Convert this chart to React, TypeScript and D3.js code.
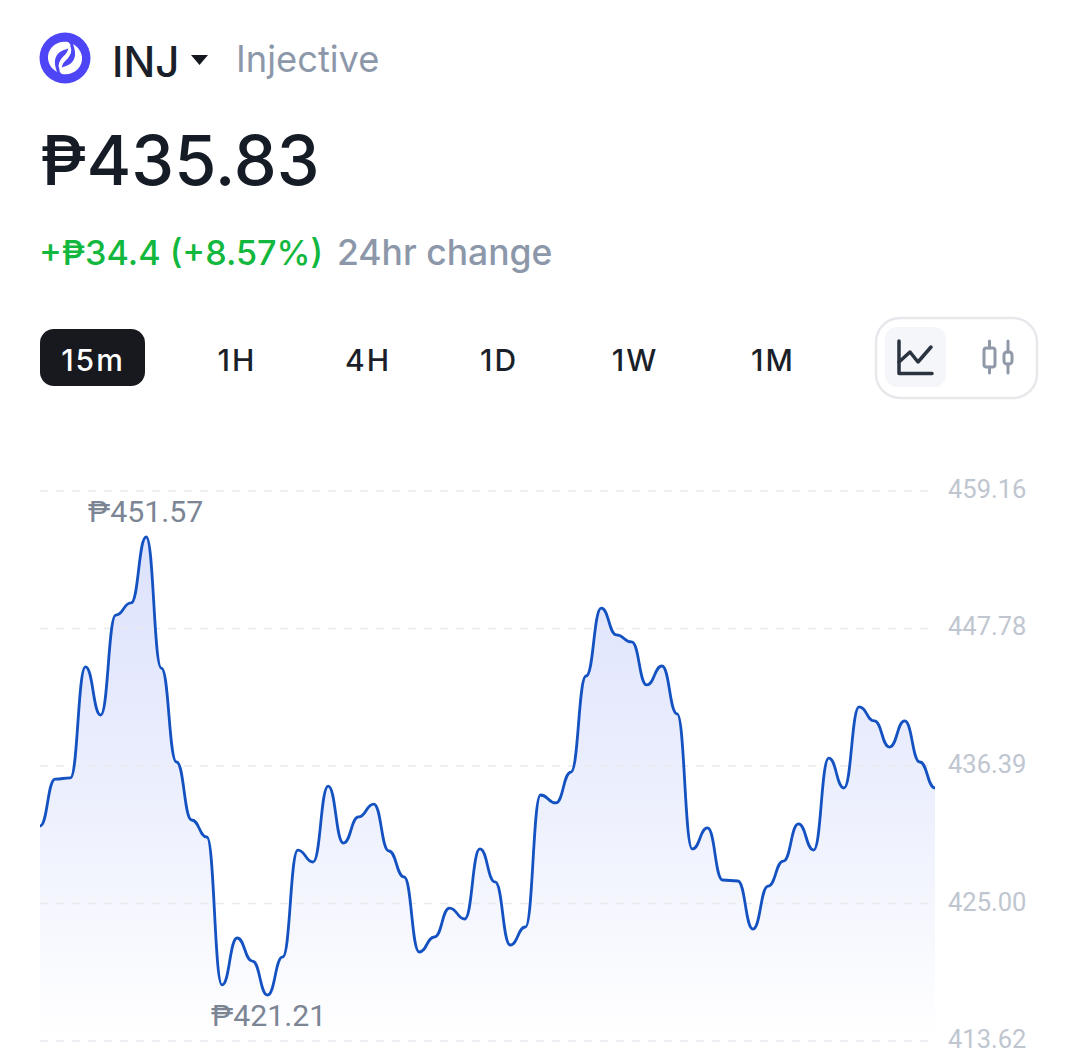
import React from "react";
import * as d3 from "d3";

const prices = [431.42,435.31,435.40,444.59,440.61,448.89,449.89,455.35,444.50,436.72,431.92,430.51,418.26,422.15,420.24,417.43,420.58,429.43,428.44,434.73,430.01,432.17,433.24,429.35,427.20,420.99,422.23,424.63,423.72,429.52,426.79,421.57,423.06,433.99,433.33,435.89,443.84,449.47,447.24,446.66,443.10,444.67,440.70,429.52,431.26,426.95,426.87,422.89,426.45,428.52,431.59,429.43,437.05,434.57,441.28,440.12,437.96,440.12,436.72,434.57];
const axisTicks = ["459.16","447.78","436.39","425.00","413.62"];
const intervals = ["15m","1H","4H","1D","1W","1M"];
const intervalCentres = [92,236,367,498,634,772];
const sans = "Inter, 'Noto Sans', sans-serif";
const axisFont = "Roboto, sans-serif";
const swirl = "M68 42 C56 40 47 49 48 59 C49 65 52 69 57 72 C55 66 54 61 56 57 C58 52 63 50 67 49 C72 47 71 44 68 42 Z M69 46 C71 51 66 54 62 58 C58 63 57 69 63 73 C60 67 63 63 67 59 C71 54 73 50 69 46 Z";

export default function App() {
  const x = d3.scaleLinear().domain([0, prices.length - 1]).range([40, 935]);
  const y = d3.scaleLinear().domain([413.62, 459.16]).range([1041, 491]);
  const line = d3.line<number>().x((_, i) => x(i)).y(d => y(d)).curve(d3.curveBumpX);
  const area = d3.area<number>().x((_, i) => x(i)).y0(1041).y1(d => y(d)).curve(d3.curveBumpX);
  return (
    <svg width={1078} height={1059} style={{ position: "absolute", left: 0, top: 0, display: "block", background: "#fff" }}>
      <defs>
        <linearGradient id="fill" x1="0" y1="537" x2="0" y2="1041" gradientUnits="userSpaceOnUse">
          <stop offset="0" stopColor="#dde2fd" />
          <stop offset="0.5" stopColor="#eceffd" />
          <stop offset="1" stopColor="#ffffff" />
        </linearGradient>
      </defs>
      <circle cx={65} cy={58} r={25.5} fill="#4d45f6" />
      <path d={swirl} fill="#fff" />
      <path d={swirl} fill="#fff" transform="rotate(180 65 58)" />
      <text x={112} y={77} fontFamily={sans} fontSize={42} fontWeight={500} fill="#1a1f29">INJ</text>
      <path d="M191 55 L208 55 L199.5 65 Z" fill="#15181e" />
      <text x={236} y={72} fontFamily={sans} fontSize={36.3} fill="#8c98aa">Injective</text>
      <text x={40} y={185} fontFamily={sans} fontSize={68.3} fontWeight={500} fill="#161c26">₱435.83</text>
      <text x={39} y={265} fontFamily={sans} fontSize={34.2} fontWeight={500} fill="#12b83d">+₱34.4 (+8.57%)</text>
      <text x={337} y={265} fontFamily={sans} fontSize={35.5} fontWeight={500} fill="#8c98aa">24hr change</text>

      <rect x={40} y={329} width={105} height={57} rx={14} fill="#17191e" />
      {intervals.map((t, i) => (
        <text key={t} x={intervalCentres[i] + 1} y={371} textAnchor="middle" fontFamily={sans} fontSize={30} fontWeight={500} letterSpacing={2} fill={i === 0 ? "#fff" : "#1a1f29"}>{t}</text>
      ))}

      <rect x={876} y={318} width={161} height={80} rx={24} fill="#fff" stroke="#e6e8ec" strokeWidth={2.5} />
      <rect x={885} y={327} width={61} height={60} rx={12} fill="#f5f6fa" />
      <g fill="none" stroke="#2a3340" strokeWidth={3.5} strokeLinecap="round" strokeLinejoin="round">
        <path d="M899 341 V373.5 H932" />
        <path d="M899 362 L910 352 L918 362 L931 347" />
      </g>
      <g fill="none" stroke="#8f99a8" strokeWidth={3} strokeLinejoin="round" strokeLinecap="round">
        <rect x={984} y={348} width={11} height={19} rx={2.5} />
        <path d="M989.5 341 V348 M989.5 367 V373" />
        <rect x={1004} y={352} width={8} height={12} rx={3} />
        <path d="M1008 341 V352 M1008 364 V373" />
      </g>

      <path d={area(prices) ?? ""} fill="url(#fill)" />
      {axisTicks.map(t => (
        <g key={t}>
          <line x1={40} x2={936} y1={y(+t)} y2={y(+t)} stroke="#e8eaee" strokeWidth={1.5} strokeDasharray="8 8" />
          <text x={948} y={y(+t) + 7} fontFamily={axisFont} fontSize={25.5} fill="#c0c6d0">{t}</text>
        </g>
      ))}
      <path d={line(prices) ?? ""} fill="none" stroke="#1452c2" strokeWidth={2.8} />
      <text x={88} y={522} fontFamily={axisFont} fontSize={30.3} fill="#7b8594">₱451.57</text>
      <text x={211} y={1026} fontFamily={axisFont} fontSize={30.3} fill="#7b8594">₱421.21</text>
    </svg>
  );
}
